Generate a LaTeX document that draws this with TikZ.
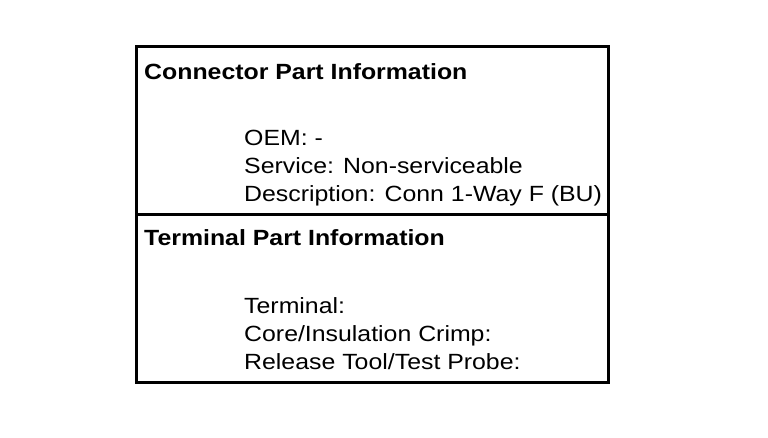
\documentclass[tikz,border=0pt]{standalone}
\usepackage{fontspec}
\setmainfont{Liberation Sans}[FakeStretch=1.13]
\usepackage{tikz}

\begin{document}
\begin{tikzpicture}[
    x=1pt, y=-1pt,
    every node/.style={inner sep=0pt, anchor=base west},
    heading/.style={font=\bfseries\fontsize{22}{22}\selectfont},
    entry/.style={font=\fontsize{22}{22}\selectfont},
    frame/.style={line width=3pt},
    ]
    \useasboundingbox (0,0) rectangle (768,438);
    \coordinate (topleft) at (136,47);
    \coordinate (botright) at (608,382);
    \coordinate (midleft) at (136,215);
    \coordinate (midright) at (608,215);
    \draw[frame] (topleft) rectangle (botright);
    \draw[frame] (midleft) -- (midright);
    % connector part
    \node[heading] (connhead) at (144,80) {Connector Part Information};
    \foreach \txt [count=\i] in {OEM: -, Service: Non-serviceable, Description: Conn 1-Way F (BU)}
        \node[entry] (conn\i) at (244,118+28*\i) {\txt};
    % terminal part
    \node[heading] (termhead) at (144,246) {Terminal Part Information};
    \foreach \txt [count=\i] in {Terminal:, Core/Insulation Crimp:, Release Tool/Test Probe:}
        \node[entry] (term\i) at (244,285+28*\i) {\txt};
\end{tikzpicture}
\end{document}
